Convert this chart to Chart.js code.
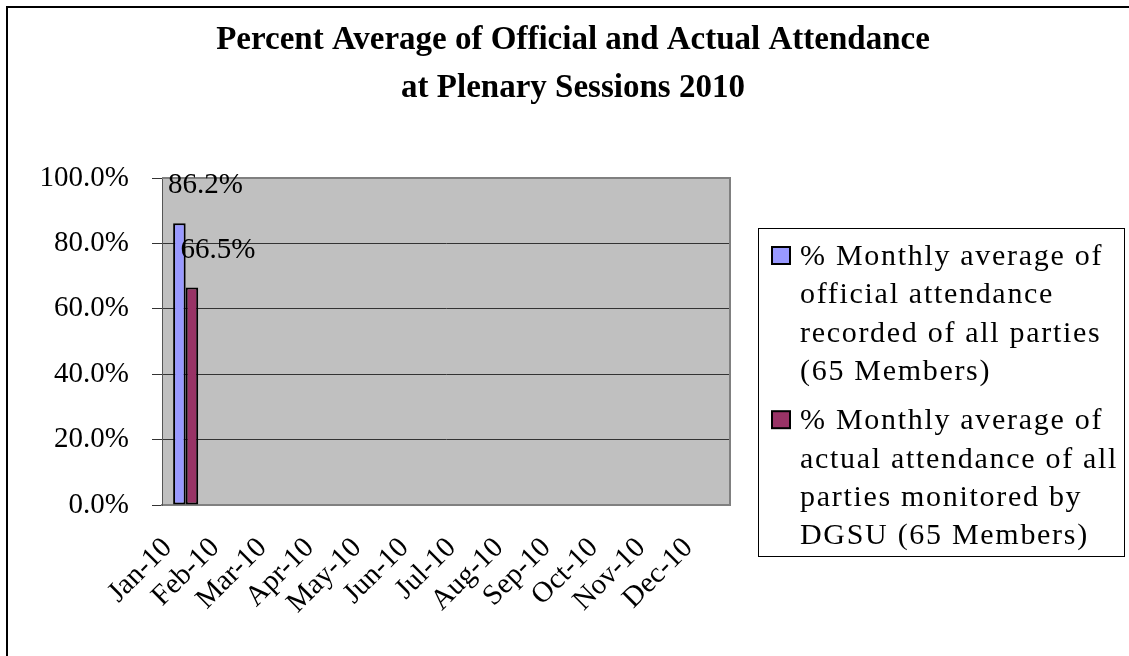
<!DOCTYPE html>
<html>
<head>
<meta charset="utf-8">
<title>Percent Average of Official and Actual Attendance</title>
<script src="https://cdn.jsdelivr.net/npm/chart.js@4.4.1/dist/chart.umd.min.js"></script>
<style>
    body { margin: 0; background: #ffffff; }
    #wrap { width: 1129px; height: 656px; }
</style>
</head>
<body>
<div id="wrap"><canvas id="chartAttendance" width="1129" height="656"></canvas></div>
<script>
// months
const months = ['Jan-10', 'Feb-10', 'Mar-10', 'Apr-10', 'May-10', 'Jun-10',
                'Jul-10', 'Aug-10', 'Sep-10', 'Oct-10', 'Nov-10', 'Dec-10'];

// official attendance (%)
const officialAtt = [86.2, null, null, null, null, null, null, null, null, null, null, null];
// actual attendance monitored (%)
const actualAtt = [66.5, null, null, null, null, null, null, null, null, null, null, null];

// y axis ticks
const yTicks = [0, 20, 40, 60, 80, 100];

// legend texts (wrapped like the original)
const officialName = ['% Monthly average of', 'official attendance', 'recorded of all parties', '(65 Members)'];
const actualName = ['% Monthly average of', 'actual attendance of all', 'parties monitored by', 'DGSU (65 Members)'];

const titleLines = ['Percent Average of Official and Actual Attendance', 'at Plenary Sessions 2010'];

document.addEventListener("DOMContentLoaded", function(){
    const serif = '"Liberation Serif", "Times New Roman", serif';

    // outer frame, title and grey plot background
    const backPlugin = {
        id: 'backPlugin',
        beforeDraw(chart) {
            const c = chart.ctx;
            const a = chart.chartArea;
            c.save();
            c.fillStyle = '#ffffff';
            c.fillRect(0, 0, chart.width, chart.height);
            c.strokeStyle = '#000000';
            c.lineWidth = 2;
            c.strokeRect(7, 7, chart.width + 20, chart.height + 20);
            c.fillStyle = '#c0c0c0';
            c.fillRect(a.left, a.top, a.right - a.left, a.bottom - a.top);

            // title
            c.fillStyle = '#000000';
            c.font = 'bold 33px ' + serif;
            c.textAlign = 'center';
            c.textBaseline = 'middle';
            titleLines.forEach(function(t, k){
                c.fillText(t, 573, 40 + k * 48);
            });
            c.restore();
        },
        afterDatasetsDraw(chart) {
            const c = chart.ctx;
            const a = chart.chartArea;
            c.save();
            c.strokeStyle = '#808080';
            c.lineWidth = 2;
            c.beginPath();
            c.moveTo(a.left, a.top);
            c.lineTo(a.right, a.top);
            c.lineTo(a.right, a.bottom);
            c.stroke();
            c.restore();
        }
    };

    // value labels over the bars
    const valuePlugin = {
        id: 'valuePlugin',
        afterDatasetsDraw(chart) {
            const c = chart.ctx;
            c.save();
            c.font = '29px ' + serif;
            c.fillStyle = '#000000';
            c.textAlign = 'center';
            c.textBaseline = 'alphabetic';
            chart.data.datasets.forEach(function(ds, i){
                const meta = chart.getDatasetMeta(i);
                meta.data.forEach(function(bar, j){
                    const v = ds.data[j];
                    if (v === null || v === undefined) return;
                    c.fillText(v.toFixed(1) + '%', bar.x + 26, bar.y - 30);
                });
            });
            c.restore();
        }
    };

    // legend box on the right
    const legendPlugin = {
        id: 'legendPlugin',
        afterDraw(chart) {
            const c = chart.ctx;
            const box = { x: 758.5, y: 228.5, w: 366, h: 328 };
            const lineH = 38.3;
            c.save();
            c.strokeStyle = '#000000';
            c.lineWidth = 1;
            c.strokeRect(box.x, box.y, box.w, box.h);
            c.font = '30px ' + serif;
            c.fillStyle = '#000000';
            c.textAlign = 'left';
            c.textBaseline = 'alphabetic';
            if ('letterSpacing' in c) c.letterSpacing = '1.7px';
            let base = 265;
            chart.data.datasets.forEach(function(ds){
                c.fillStyle = ds.backgroundColor;
                c.fillRect(772, base - 18, 18, 17);
                c.strokeStyle = '#000000';
                c.lineWidth = 2;
                c.strokeRect(772, base - 18, 18, 17);
                c.fillStyle = '#000000';
                ds.legendLines.forEach(function(t, k){
                    c.fillText(t, 800, base + k * lineH);
                });
                base += ds.legendLines.length * lineH + 11;
            });
            c.restore();
        }
    };

    const data1 = {
        labels: months,
        datasets: [{
            label: officialName.join(' '),
            legendLines: officialName,
            data: officialAtt,
            backgroundColor: '#9999ff',
            borderColor: '#000000',
            borderWidth: 2,
            borderSkipped: false,
            categoryPercentage: 0.53,
            barPercentage: 1.0
        }, {
            label: actualName.join(' '),
            legendLines: actualName,
            data: actualAtt,
            backgroundColor: '#993366',
            borderColor: '#000000',
            borderWidth: 2,
            borderSkipped: false,
            categoryPercentage: 0.53,
            barPercentage: 1.0
        }]
    };

    const options1 = {
        responsive: false,
        maintainAspectRatio: false,
        animation: false,
        layout: { padding: { left: 0, top: 178, right: 399, bottom: 0 } },
        plugins: {
            title: { display: false },
            legend: { display: false },
            tooltip: { enabled: false }
        },
        scales: {
            x: {
                grid: { display: false },
                border: { display: true, color: '#808080', width: 2 },
                ticks: {
                    color: '#000000',
                    font: { family: serif, size: 29 },
                    autoSkip: false,
                    minRotation: 45,
                    maxRotation: 45,
                    padding: 18,
                    labelOffset: -18
                },
                afterFit(scale) { scale.height = 151; }
            },
            y: {
                min: 0,
                max: 100,
                grid: { color: '#333333', lineWidth: 1, tickLength: 10 },
                border: { display: true, color: '#555555', width: 1 },
                afterBuildTicks(scale) {
                    scale.ticks = yTicks.map(function(v){ return { value: v }; });
                },
                ticks: {
                    color: '#000000',
                    font: { family: serif, size: 29 },
                    padding: 23,
                    callback: function(v){ return v.toFixed(1) + '%'; }
                },
                afterFit(scale) { scale.width = 162; }
            }
        }
    };

    const ctx1 = document.getElementById('chartAttendance').getContext('2d');
    const chartAttendance = new Chart(ctx1, {
        type: 'bar',
        data: data1,
        options: options1,
        plugins: [backPlugin, valuePlugin, legendPlugin]
    });
});
</script>
</body>
</html>
